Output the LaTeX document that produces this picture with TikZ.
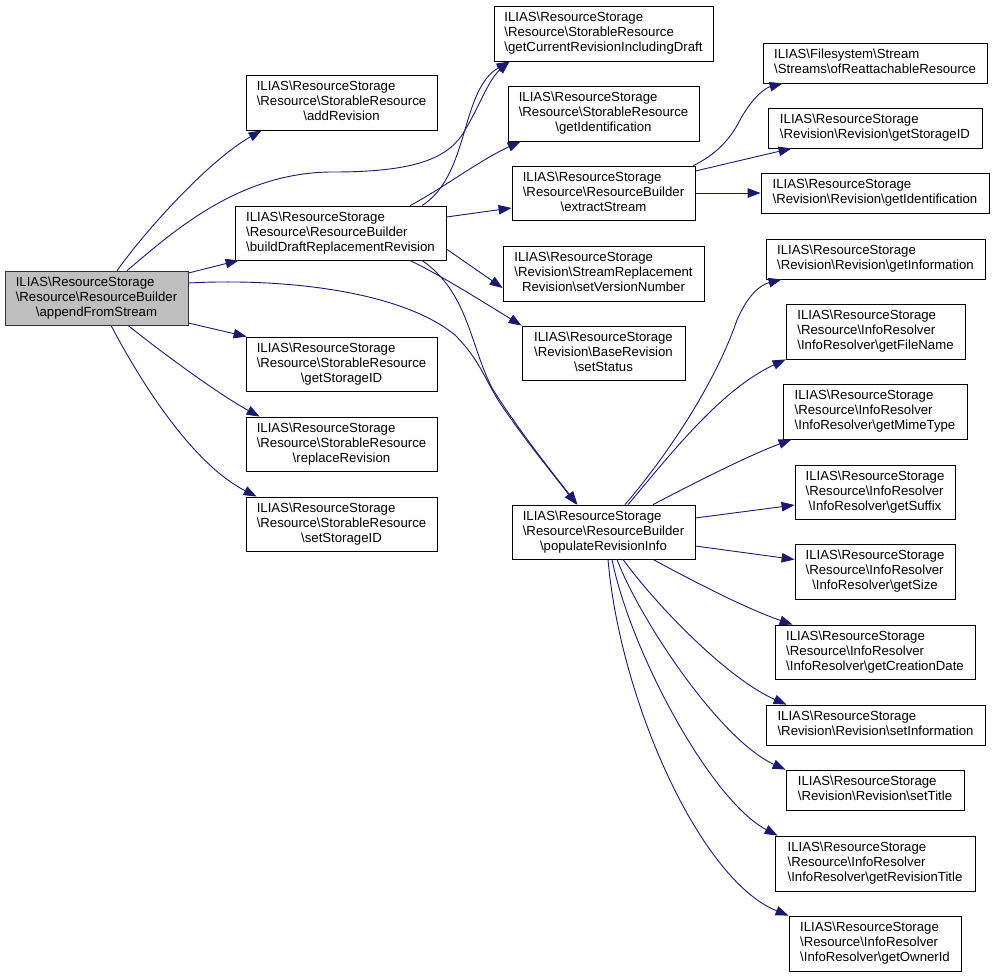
\documentclass[tikz,border=0pt]{standalone}
\usepackage{fontspec}
\setmainfont{Liberation Sans}
\usetikzlibrary{arrows.meta}
\definecolor{edgec}{HTML}{191970}
\definecolor{rootfill}{HTML}{BFBFBF}
\newcommand\Bsl{\textbackslash}
\newcommand\ThreeL[3]{\begin{tabular}{@{}l@{}}#1\\#2\\\multicolumn{1}{@{}c@{}}{#3}\end{tabular}}
\newcommand\TwoL[2]{\begin{tabular}{@{}l@{}}#1\\\multicolumn{1}{@{}c@{}}{#2}\end{tabular}}
\begin{document}
\begin{tikzpicture}[x=1pt,y=-1pt,
  box/.style={draw=black, line width=0.8pt, fill=white, inner sep=0pt, font=\fontsize{13.2}{15}\selectfont, text=black},
  root/.style={box, fill=rootfill, draw=black!80},
  edge/.style={draw=edgec, line width=0.9pt, -{Triangle[length=13pt,width=9.5pt]}}]
\useasboundingbox (0,0) rectangle (995,977);
% left column
\node[root, minimum width=183pt, minimum height=54pt] (A) at (96.5,298) {\ThreeL{ILIAS\Bsl ResourceStorage}{\Bsl Resource\Bsl ResourceBuilder}{\Bsl appendFromStream}};
\node[box, minimum width=191pt, minimum height=55pt] (B) at (341.5,102.5) {\ThreeL{ILIAS\Bsl ResourceStorage}{\Bsl Resource\Bsl StorableResource}{\Bsl addRevision}};
\node[box, minimum width=211pt, minimum height=54pt] (C) at (340.5,233) {\ThreeL{ILIAS\Bsl ResourceStorage}{\Bsl Resource\Bsl ResourceBuilder}{\Bsl buildDraftReplacementRevision}};
\node[box, minimum width=191pt, minimum height=54pt] (D) at (341.5,364) {\ThreeL{ILIAS\Bsl ResourceStorage}{\Bsl Resource\Bsl StorableResource}{\Bsl getStorageID}};
\node[box, minimum width=191pt, minimum height=54pt] (E) at (341.5,444) {\ThreeL{ILIAS\Bsl ResourceStorage}{\Bsl Resource\Bsl StorableResource}{\Bsl replaceRevision}};
\node[box, minimum width=191pt, minimum height=54pt] (F) at (341.5,524) {\ThreeL{ILIAS\Bsl ResourceStorage}{\Bsl Resource\Bsl StorableResource}{\Bsl setStorageID}};
% middle column
\node[box, minimum width=219pt, minimum height=55pt] (G) at (603.5,33.5) {\ThreeL{ILIAS\Bsl ResourceStorage}{\Bsl Resource\Bsl StorableResource}{\Bsl getCurrentRevisionIncludingDraft}};
\node[box, minimum width=191pt, minimum height=55pt] (H) at (603.5,113.5) {\ThreeL{ILIAS\Bsl ResourceStorage}{\Bsl Resource\Bsl StorableResource}{\Bsl getIdentification}};
\node[box, minimum width=183pt, minimum height=54pt] (I) at (603.5,193) {\ThreeL{ILIAS\Bsl ResourceStorage}{\Bsl Resource\Bsl ResourceBuilder}{\Bsl extractStream}};
\node[box, minimum width=201pt, minimum height=55pt] (J) at (603.5,273.5) {\ThreeL{ILIAS\Bsl ResourceStorage}{\Bsl Revision\Bsl StreamReplacement}{Revision\Bsl setVersionNumber}};
\node[box, minimum width=163pt, minimum height=54pt] (K) at (603.5,353) {\ThreeL{ILIAS\Bsl ResourceStorage}{\Bsl Revision\Bsl BaseRevision}{\Bsl setStatus}};
\node[box, minimum width=183pt, minimum height=54pt] (T) at (603.5,532) {\ThreeL{ILIAS\Bsl ResourceStorage}{\Bsl Resource\Bsl ResourceBuilder}{\Bsl populateRevisionInfo}};
% right column
\node[box, minimum width=224pt, minimum height=40pt] (L) at (875,63) {\TwoL{ILIAS\Bsl Filesystem\Bsl Stream}{\Bsl Streams\Bsl ofReattachableResource}};
\node[box, minimum width=214pt, minimum height=40pt] (M) at (875,128) {\TwoL{ILIAS\Bsl ResourceStorage}{\Bsl Revision\Bsl Revision\Bsl getStorageID}};
\node[box, minimum width=228pt, minimum height=40pt] (N) at (875,193) {\TwoL{ILIAS\Bsl ResourceStorage}{\Bsl Revision\Bsl Revision\Bsl getIdentification}};
\node[box, minimum width=219pt, minimum height=40pt] (O) at (875.5,259) {\TwoL{ILIAS\Bsl ResourceStorage}{\Bsl Revision\Bsl Revision\Bsl getInformation}};
\node[box, minimum width=179pt, minimum height=55pt] (P) at (875.5,331.5) {\ThreeL{ILIAS\Bsl ResourceStorage}{\Bsl Resource\Bsl InfoResolver}{\Bsl InfoResolver\Bsl getFileName}};
\node[box, minimum width=184pt, minimum height=55pt] (Q) at (875,411.5) {\ThreeL{ILIAS\Bsl ResourceStorage}{\Bsl Resource\Bsl InfoResolver}{\Bsl InfoResolver\Bsl getMimeType}};
\node[box, minimum width=160pt, minimum height=54pt] (R) at (875,492) {\ThreeL{ILIAS\Bsl ResourceStorage}{\Bsl Resource\Bsl InfoResolver}{\Bsl InfoResolver\Bsl getSuffix}};
\node[box, minimum width=160pt, minimum height=55pt] (S) at (875,571.5) {\ThreeL{ILIAS\Bsl ResourceStorage}{\Bsl Resource\Bsl InfoResolver}{\Bsl InfoResolver\Bsl getSize}};
\node[box, minimum width=200pt, minimum height=54pt] (U) at (875,652) {\ThreeL{ILIAS\Bsl ResourceStorage}{\Bsl Resource\Bsl InfoResolver}{\Bsl InfoResolver\Bsl getCreationDate}};
\node[box, minimum width=219pt, minimum height=40pt] (V) at (875.5,725) {\TwoL{ILIAS\Bsl ResourceStorage}{\Bsl Revision\Bsl Revision\Bsl setInformation}};
\node[box, minimum width=178pt, minimum height=40pt] (W) at (875,790) {\TwoL{ILIAS\Bsl ResourceStorage}{\Bsl Revision\Bsl Revision\Bsl setTitle}};
\node[box, minimum width=200pt, minimum height=55pt] (X) at (875,863.5) {\ThreeL{ILIAS\Bsl ResourceStorage}{\Bsl Resource\Bsl InfoResolver}{\Bsl InfoResolver\Bsl getRevisionTitle}};
\node[box, minimum width=172pt, minimum height=55pt] (Y) at (875,943.5) {\ThreeL{ILIAS\Bsl ResourceStorage}{\Bsl Resource\Bsl InfoResolver}{\Bsl InfoResolver\Bsl getOwnerId}};
% edges from A
\draw[edge] ([xshift=20.5pt]A.north) .. controls (150,225) and (210,160) .. ([xshift=16pt]B.south west);
\draw[edge] ([xshift=30.5pt]A.north) .. controls (175,230) and (240,172) .. (333,172) .. controls (410,172) and (445,160) .. (462,135) .. controls (478,110) and (488,80) .. ([xshift=16pt]G.south west);
\draw[edge] ([yshift=25pt]A.east) -- ([xshift=4pt]C.south west);
\draw[edge] ([yshift=15pt]A.east) .. controls (280,278) and (400,290) .. (455,335) .. controls (480,360) and (485,380) .. (500,403) .. controls (525,440) and (550,470) .. ([xshift=-27pt]T.north);
\draw[edge] ([yshift=-25pt]A.east) -- ([xshift=1pt]D.north west);
\draw[edge] ([xshift=31.5pt]A.south) .. controls (165,355) and (220,395) .. ([xshift=14pt]E.north west);
\draw[edge] ([xshift=14.5pt]A.south) .. controls (145,390) and (195,465) .. ([xshift=11pt]F.north west);
% edges from C
\draw[edge] ([xshift=81.5pt]C.north) .. controls (470,175) and (460,90) .. ([xshift=16pt]G.south west);
\draw[edge] ([xshift=69.5pt]C.north) .. controls (440,190) and (480,160) .. ([xshift=13pt]H.south west);
\draw[edge] ([yshift=16pt]C.east) -- ([yshift=-15pt]I.west);
\draw[edge] ([yshift=-16pt]C.east) -- ([yshift=-14.5pt]J.west);
\draw[edge] ([xshift=69.5pt]C.south) .. controls (440,275) and (480,300) .. (K.north west);
\draw[edge] ([xshift=81.5pt]C.south) .. controls (468,292) and (470,345) .. (492,388) .. controls (515,425) and (550,470) .. ([xshift=-26pt]T.north);
% edges from I
\draw[edge] ([xshift=-2pt]I.north east) .. controls (715,155) and (730,140) .. (740,120) .. controls (752,98) and (765,88) .. ([xshift=20pt]L.south west);
\draw[edge] ([yshift=22pt]I.east) -- ([xshift=24pt]M.south west);
\draw[edge] (I.east) -- (N.west);
% edges from T
\draw[edge] ([xshift=21.5pt]T.north) .. controls (680,440) and (720,370) .. (737,320) .. controls (748,295) and (760,285) .. ([xshift=16pt]O.south west);
\draw[edge] ([xshift=24.5pt]T.north) .. controls (670,455) and (720,390) .. (P.south west);
\draw[edge] ([xshift=49.5pt]T.north) .. controls (700,480) and (750,455) .. ([xshift=9pt]Q.south west);
\draw[edge] ([yshift=14pt]T.east) -- ([yshift=-13pt]R.west);
\draw[edge] ([yshift=-14pt]T.east) -- ([yshift=12pt]S.west);
\draw[edge] ([xshift=49.5pt]T.south) .. controls (700,585) and (750,610) .. ([xshift=18pt]U.north west);
\draw[edge] ([xshift=19.5pt]T.south) .. controls (660,610) and (730,680) .. ([xshift=21pt]V.north west);
\draw[edge] ([xshift=13.5pt]T.south) .. controls (640,620) and (720,740) .. (W.north west);
\draw[edge] ([xshift=8.5pt]T.south) .. controls (630,650) and (710,800) .. ([xshift=3pt]X.north west);
\draw[edge] ([xshift=4.5pt]T.south) .. controls (620,700) and (700,880) .. (Y.north west);
\end{tikzpicture}
\end{document}
